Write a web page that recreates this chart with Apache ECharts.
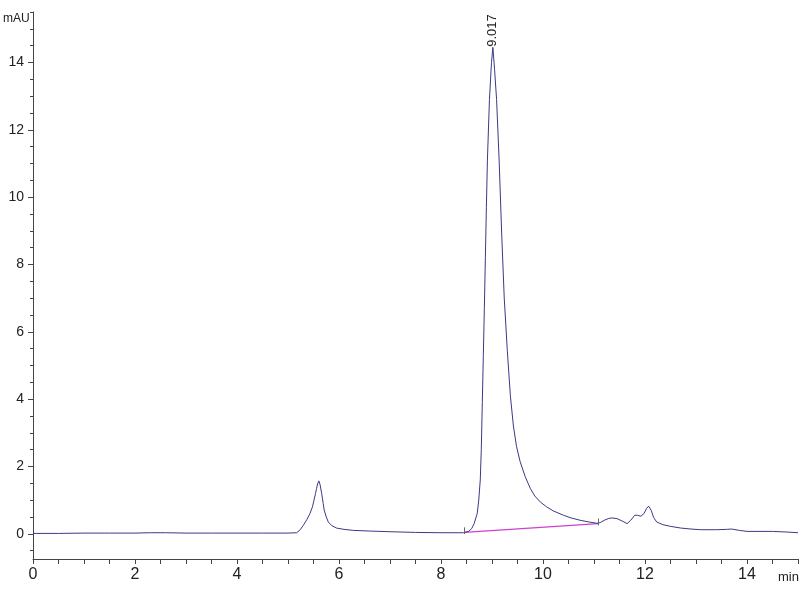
<!DOCTYPE html>
<html>
<head>
<meta charset="utf-8">
<script src="https://cdn.jsdelivr.net/npm/echarts@6/dist/echarts.min.js"></script>
<style>html,body{margin:0;padding:0;background:#fff}#c{width:800px;height:600px}</style>
</head>
<body>
<div id="c"></div>
<script>
// Retention time (min)
const times = [0,0.5,1,1.5,2,2.3,2.6,3,3.5,4,4.5,5.0,5.17,5.24,5.30,5.37,5.43,5.48,5.51,5.54,5.56,5.58,5.605,5.63,5.66,5.69,5.71,5.75,5.79,5.86,5.95,6.1,6.28,6.6,7.0,7.5,8.0,8.44,8.54,8.60,8.65,8.71,8.74,8.77,8.79,8.81,8.83,8.85,8.87,8.89,8.91,8.95,8.99,9.017,9.05,9.09,9.14,9.19,9.24,9.30,9.36,9.42,9.48,9.55,9.65,9.75,9.84,9.95,10.07,10.2,10.4,10.55,10.73,10.9,11.06,11.12,11.2,11.28,11.35,11.45,11.55,11.65,11.72,11.8,11.85,11.92,11.98,12.03,12.07,12.12,12.17,12.23,12.35,12.5,12.7,12.9,13.09,13.4,13.6,13.7,13.85,14.0,14.5,14.8,15.0];
// Absorbance (mAU)
const signal = [0.01,0.01,0.02,0.02,0.02,0.03,0.03,0.02,0.02,0.02,0.02,0.02,0.03,0.12,0.25,0.42,0.6,0.8,1.0,1.2,1.34,1.48,1.57,1.45,1.2,0.9,0.7,0.5,0.35,0.24,0.17,0.13,0.10,0.08,0.06,0.04,0.03,0.03,0.07,0.15,0.3,0.6,1.0,1.6,2.5,3.9,5.3,6.7,8.2,9.7,11.1,12.9,14.0,14.45,13.8,12.9,11.1,8.9,7.0,5.45,4.1,3.2,2.6,2.15,1.7,1.35,1.12,0.94,0.80,0.68,0.55,0.47,0.40,0.35,0.31,0.33,0.40,0.45,0.47,0.45,0.38,0.30,0.40,0.55,0.55,0.52,0.6,0.75,0.82,0.7,0.48,0.35,0.27,0.22,0.17,0.14,0.12,0.12,0.13,0.14,0.10,0.07,0.07,0.05,0.03];
// Integration baseline of the main peak
const baseTimes = [8.46, 11.08];
const baseValues = [0.04, 0.30];
// Peak annotations
const peakTimes = [9.017];
const peakHeights = [14.45];
const peakLabels = ['9.017'];
// Axis ticks
const xLabelTicks = [0,2,4,6,8,10,12,14];
const xMinorTicks = [0,0.5,1,1.5,2,2.5,3,3.5,4,4.5,5,5.5,6,6.5,7,7.5,8,8.5,9,9.5,10,10.5,11,11.5,12,12.5,13,13.5,14,14.5,15];
const yLabelTicks = [0,2,4,6,8,10,12,14];
const yMinorTicks = [-0.5,0,0.5,1,1.5,2,2.5,3,3.5,4,4.5,5,5.5,6,6.5,7,7.5,8,8.5,9,9.5,10,10.5,11,11.5,12,12.5,13,13.5,14,14.5,15,15.5];

const FONT = "'Liberation Sans Narrow','Arial Narrow','Liberation Sans',sans-serif";
const AX = '#444';

const chart = echarts.init(document.getElementById('c'), null, {renderer: 'canvas'});
chart.setOption({
  animation: false,
  backgroundColor: '#fff',
  grid: {left: 33, right: 2, top: 12, bottom: 41},
  xAxis: [{
    type: 'value', min: 0, max: 15,
    axisLine: {show: true, onZero: false, lineStyle: {color: AX, width: 1}},
    axisTick: {show: true, customValues: xMinorTicks, length: 5, lineStyle: {color: AX}},
    axisLabel: {customValues: xLabelTicks, margin: 8, fontFamily: FONT, fontSize: 16, color: '#222'},
    splitLine: {show: false}
  }],
  yAxis: [{
    type: 'value', min: -0.75, max: 15.5,
    axisLine: {show: true, onZero: false, lineStyle: {color: AX, width: 1}},
    axisTick: {show: true, customValues: yLabelTicks, length: 5, lineStyle: {color: AX}},
    axisLabel: {customValues: yLabelTicks, margin: 9, fontFamily: FONT, fontSize: 14, color: '#222'},
    splitLine: {show: false}
  }, {
    type: 'value', min: -0.75, max: 15.5, position: 'left',
    axisLine: {show: false},
    axisTick: {show: true, customValues: yMinorTicks, length: 3, lineStyle: {color: AX}},
    axisLabel: {show: false},
    splitLine: {show: false}
  }],
  series: [{
    type: 'line', data: times.map((t, i) => [t, signal[i]]), showSymbol: false, symbol: 'none',
    lineStyle: {color: '#3a3a85', width: 1}, z: 3, smooth: false,
    markPoint: {
      symbol: 'circle', symbolSize: 1, itemStyle: {color: 'rgba(0,0,0,0)'},
      label: {
        show: true, position: 'top', rotate: 90, align: 'left', verticalAlign: 'middle',
        distance: 0, fontFamily: "'Liberation Sans',sans-serif", fontSize: 13, color: '#222'
      },
      data: peakTimes.map((t, k) => ({coord: [t, peakHeights[k]], value: peakLabels[k],
        label: {formatter: peakLabels[k]}}))
    }
  }, {
    type: 'line', data: baseTimes.map((t, i) => [t, baseValues[i]]), symbol: 'none',
    lineStyle: {color: '#d040d0', width: 1.2}, z: 2,
    markLine: {
      silent: true, symbol: 'none', label: {show: false},
      lineStyle: {color: '#666', width: 1, type: 'solid'},
      data: baseTimes.map((t, i) => [{coord: [t, baseValues[i] - 0.05]}, {coord: [t, baseValues[i] + 0.15]}])
    }
  }],
  graphic: [{
    type: 'text', left: 3, top: 13,
    style: {text: 'mAU', font: "12px " + FONT, fill: '#222'}
  }, {
    type: 'text', left: 778, top: 571,
    style: {text: 'min', font: "13px " + FONT, fill: '#222'}
  }]
});
</script>
</body>
</html>
